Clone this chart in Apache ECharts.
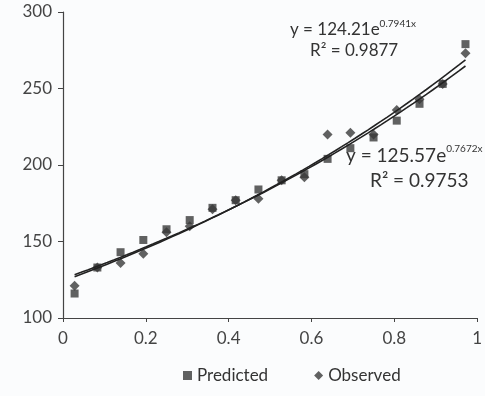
<!DOCTYPE html>
<html><head><meta charset="utf-8">
<script src="https://cdn.jsdelivr.net/npm/echarts@6/dist/echarts.min.js"></script>
<style>html,body{margin:0;padding:0;background:#fbfcfd;}#c{width:485px;height:396px;}</style>
</head><body><div id="c"></div>
<script>
var xValues = [0.028, 0.083, 0.139, 0.194, 0.25, 0.306, 0.361, 0.417, 0.472, 0.528, 0.583, 0.639, 0.694, 0.75, 0.806, 0.861, 0.917, 0.972];
var predicted = [116, 133, 143, 151, 158, 164, 172, 177, 184, 190, 194, 204, 211, 218, 229, 240, 253, 279];
var observed  = [121, 133, 136, 142, 156, 160, 171, 177, 178, 190, 192, 220, 221, 220, 236, 243, 253, 273];
var fitPredicted = [124.21, 0.7941]; // y = a e^(b x), R^2 = 0.9877
var fitObserved  = [125.57, 0.7672]; // R^2 = 0.9753
var xTicks = [0, 0.2, 0.4, 0.6, 0.8, 1];
var yTicks = [100, 150, 200, 250, 300];

function pairs(ys){ return xValues.map(function(x,i){ return [x, ys[i]]; }); }
function trend(fit){
  var out = [], x0 = xValues[0], x1 = xValues[xValues.length-1];
  for (var k=0;k<=60;k++){ var x = x0 + (x1-x0)*k/60; out.push([x, fit[0]*Math.exp(fit[1]*x)]); }
  return out;
}
var FONT = 'Lato';
var TXT = '#333';
function eq(main, sup, big, small){
  return {text:'{a|' + main + '}{s|' + sup + '}',
    rich:{a:{fontSize:big, fontFamily:FONT, fill:TXT, color:TXT, verticalAlign:'bottom', lineHeight:big+2},
          s:{fontSize:small, fontFamily:FONT, fill:TXT, color:TXT, verticalAlign:'top', lineHeight:big+2}}};
}
var chart = echarts.init(document.getElementById('c'));
chart.setOption({
  backgroundColor: '#fbfcfd',
  animation: false,
  grid: {left: 63, right: 6, top: 12, bottom: 78},
  xAxis: {type:'value', min: xTicks[0], max: xTicks[xTicks.length-1], interval: 0.2,
    splitLine:{show:false},
    axisLine:{lineStyle:{color:'#444', width:1.2}},
    axisTick:{show:true, length:4, lineStyle:{color:'#444'}},
    axisLabel:{color:'#444', fontSize:17, fontFamily:FONT, margin:12,
      formatter:function(v){ return String(+v.toFixed(1)); }}},
  yAxis: {type:'value', min: yTicks[0], max: yTicks[yTicks.length-1], interval: 50,
    splitLine:{show:false},
    axisLine:{show:true, lineStyle:{color:'#444', width:1.2}},
    axisTick:{show:true, length:5, lineStyle:{color:'#444'}},
    axisLabel:{color:'#444', fontSize:17, fontFamily:FONT, margin:11}},
  legend: {bottom: 7, left: 178, itemGap: 46, itemWidth: 9, itemHeight: 9,
    textStyle:{color:'#333', fontSize:17, fontFamily:FONT},
    data:[{name:'Predicted', icon:'rect'},{name:'Observed', icon:'diamond'}]},
  graphic: [
    {type:'text', left: 290, top: 19, z: -1, style: eq('y = 124.21e', '0.7941x', 17, 10)},
    {type:'text', left: 310, top: 42, z: -1, style:{text:'R² = 0.9877', fill:TXT, font:'17px Lato'}},
    {type:'text', left: 346, top: 144, z: -1, style: eq('y = 125.57e', '0.7672x', 19, 10)},
    {type:'text', left: 370, top: 171, z: -1, style:{text:'R² = 0.9753', fill:TXT, font:'19px Lato'}}
  ],
  series: [
    {name:'Predicted', type:'scatter', symbol:'rect', symbolSize:8, data: pairs(predicted),
      itemStyle:{color:'#3a3a3a'}, z:3},
    {name:'Observed', type:'scatter', symbol:'diamond', symbolSize:10, data: pairs(observed),
      itemStyle:{color:'#3a3a3a'}, z:3},
    {name:'Predicted trend', type:'line', data: trend(fitPredicted), showSymbol:false,
      lineStyle:{color:'#222', width:1.6}, z:4, silent:true},
    {name:'Observed trend', type:'line', data: trend(fitObserved), showSymbol:false,
      lineStyle:{color:'#222', width:1.6}, z:4, silent:true}
  ]
});
</script></body></html>
